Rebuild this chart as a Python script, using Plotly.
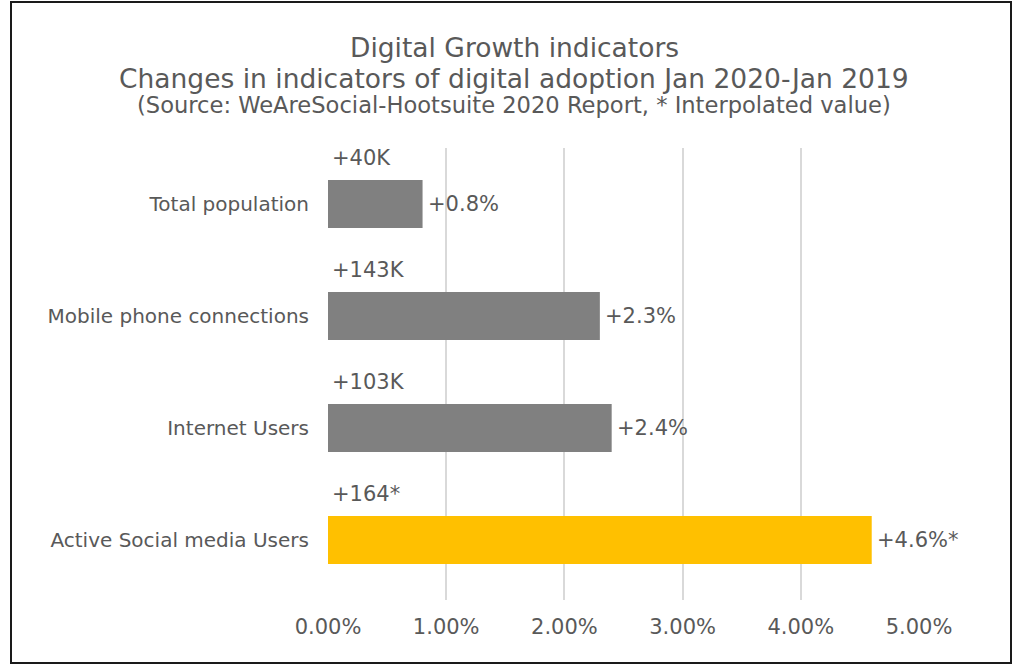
import plotly.graph_objects as go

# Indicator names (top to bottom) and their year-on-year change
categories = ["Total population", "Mobile phone connections", "Internet Users", "Active Social media Users"]
pct_change = [0.008, 0.023, 0.024, 0.046]
pct_labels = ["+0.8%", "+2.3%", "+2.4%", "+4.6%*"]
abs_labels = ["+40K", "+143K", "+103K", "+164*"]
bar_colors = ["#808080", "#808080", "#808080", "#FFC000"]
x_ticks = [0, 0.01, 0.02, 0.03, 0.04, 0.05]
x_tick_text = ["0.00%", "1.00%", "2.00%", "3.00%", "4.00%", "5.00%"]

W, H = 1014, 665
ML, MR, MT, MB = 328, 95, 148, 65
PW, PH = W - ML - MR, H - MT - MB

TXT = "#595959"
FONT = "DejaVu Sans"

fig = go.Figure(go.Bar(
    x=pct_change,
    y=categories,
    orientation="h",
    marker=dict(color=bar_colors, line=dict(width=0)),
    width=0.43,
    hoverinfo="skip",
))

annotations = []
for i, (v, pl, al) in enumerate(zip(pct_change, pct_labels, abs_labels)):
    annotations.append(dict(x=v, y=i, xref="x", yref="y", text=pl, showarrow=False,
                            xanchor="left", yanchor="middle", xshift=3,
                            font=dict(family=FONT, size=21, color=TXT)))
    annotations.append(dict(x=0, y=i, xref="x", yref="y", text=al, showarrow=False,
                            xanchor="left", yanchor="middle", xshift=2, yshift=46,
                            font=dict(family=FONT, size=21, color=TXT)))

def py(pix):
    return (H - MB - pix) / PH

def px(pix):
    return (pix - ML) / PW

title_lines = [
    ("Digital Growth indicators", 47, 26.5),
    ("Changes in indicators of digital adoption Jan 2020-Jan 2019", 78, 26.5),
    ("(Source: WeAreSocial-Hootsuite 2020 Report, * Interpolated value)", 105, 22.6),
]
for text, yc, size in title_lines:
    annotations.append(dict(x=px(W / 2 + 7), y=py(yc), xref="paper", yref="paper", text=text,
                            showarrow=False, xanchor="center", yanchor="middle",
                            font=dict(family=FONT, size=size, color=TXT)))

fig.update_layout(
    width=W, height=H,
    margin=dict(l=ML, r=MR, t=MT, b=MB),
    paper_bgcolor="white",
    plot_bgcolor="white",
    showlegend=False,
    annotations=annotations,
    shapes=[dict(type="rect", xref="paper", yref="paper",
                 x0=px(11), x1=px(1011), y0=py(663), y1=py(2),
                 line=dict(color="#1a1a1a", width=2), layer="above")],
    xaxis=dict(range=[0, 0.05], tickvals=x_ticks, ticktext=x_tick_text,
               showgrid=True, gridcolor="#D9D9D9", gridwidth=1.5,
               zeroline=False, showline=False, ticks="",
               ticklabelstandoff=12,
               tickfont=dict(family=FONT, size=21, color=TXT), fixedrange=True),
    yaxis=dict(categoryorder="array", categoryarray=categories, autorange="reversed",
               showgrid=False, zeroline=False, showline=False, ticks="",
               ticklabelstandoff=18,
               tickfont=dict(family=FONT, size=20, color=TXT), fixedrange=True),
)

fig.write_html("out.html")
